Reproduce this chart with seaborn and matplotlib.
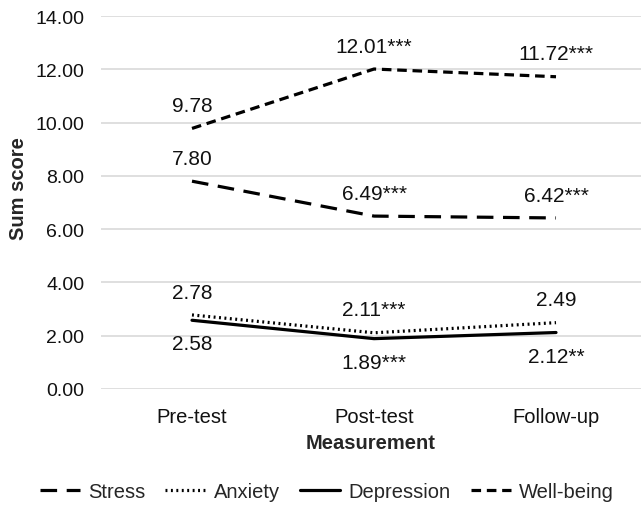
import numpy as np
import pandas as pd
import seaborn as sns
import matplotlib.pyplot as plt

# values
phases = ['Pre-test', 'Post-test', 'Follow-up']
series = ['Stress', 'Anxiety', 'Depression', 'Well-being']
stress = [7.80, 6.49, 6.42]
anxiety = [2.78, 2.11, 2.49]
depression = [2.58, 1.89, 2.12]
wellbeing = [9.78, 12.01, 11.72]
stress_lbl = ['7.80', '6.49***', '6.42***']
anxiety_lbl = ['2.78', '2.11***', '2.49']
depression_lbl = ['2.58', '1.89***', '2.12**']
wellbeing_lbl = ['9.78', '12.01***', '11.72***']

vals = [stress, anxiety, depression, wellbeing]
lbls = [stress_lbl, anxiety_lbl, depression_lbl, wellbeing_lbl]
above = [True, True, False, True]

rows = []
for s, v in zip(series, vals):
    for i, p in enumerate(phases):
        rows.append({'Measurement': i, 'Series': s, 'Score': v[i]})
df = pd.DataFrame(rows)

sns.set_style('white')
plt.rcParams['font.family'] = ['Liberation Sans', 'DejaVu Sans']

fig = plt.figure(figsize=(6.41, 5.06), dpi=100)
ax = fig.add_axes([101/641, 116/506, 540/641, 373/506])

dashes = {'Stress': (5.2, 3.0), 'Anxiety': (0.6, 1.1),
          'Depression': '', 'Well-being': (3.0, 1.8)}
sns.lineplot(data=df, x='Measurement', y='Score', hue='Series', style='Series',
             hue_order=series, style_order=series,
             palette=['black'] * 4, dashes=dashes, linewidth=2.3, ax=ax)

for v, lb, up in zip(vals, lbls, above):
    for i in range(3):
        ax.annotate(lb[i], (i, v[i]), xytext=(0, 16.5 if up else -17),
                    textcoords='offset points', ha='center', va='center',
                    fontsize=15, color='#111111')

ax.set_xlim(-0.5, 2.467)
ax.set_ylim(0, 14)
ax.set_yticks(np.arange(0, 15, 2))
ax.set_yticklabels(['%.2f' % t for t in np.arange(0, 15, 2)])
ax.set_xticks(range(3))
ax.set_xticklabels(phases)
ax.tick_params(axis='y', length=0, labelsize=14, colors='#111111', pad=12)
ax.tick_params(axis='x', length=0, labelsize=14.5, colors='#111111', pad=13)
ax.yaxis.grid(True, color='#d9d9d9', linewidth=1.2)
ax.set_axisbelow(True)
for sp in ax.spines.values():
    sp.set_visible(False)

ax.set_xlabel('Measurement', fontsize=14.5, fontweight='bold', labelpad=5)
ax.set_ylabel('Sum score', fontsize=14.5, fontweight='bold')
ax.yaxis.set_label_coords(-0.135, 0.54)

sns.move_legend(ax, 'center', bbox_to_anchor=(0.418, -0.275), ncol=4,
                frameon=False, title=None, fontsize=14.5, handlelength=2.0,
                handletextpad=0.4, columnspacing=1.0)

fig.savefig('out.png', dpi=100)
